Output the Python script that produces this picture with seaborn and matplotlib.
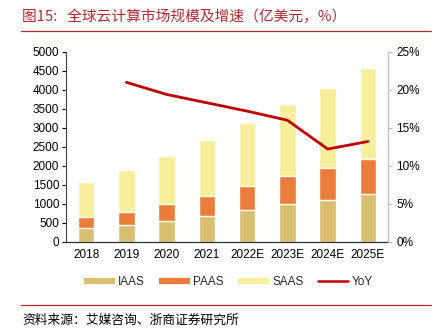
import numpy as np
import pandas as pd
import matplotlib
matplotlib.use("Agg")
import matplotlib.pyplot as plt
from matplotlib.lines import Line2D
from matplotlib.ticker import MultipleLocator, FuncFormatter
import seaborn as sns

years = ["2018", "2019", "2020", "2021", "2022E", "2023E", "2024E", "2025E"]
iaas = [362, 450, 548, 680, 831, 979, 1103, 1262]
paas = [283, 344, 441, 529, 624, 759, 839, 926]
saas = [926, 1103, 1278, 1473, 1677, 1878, 2116, 2399]
yoy = [np.nan, 21.0, 19.4, 18.3, 17.2, 16.0, 12.2, 13.2]

c_iaas = "#D9BF72"
c_paas = "#EB7D3C"
c_saas = "#F8EF9D"
c_yoy = "#C00000"
c_title = "#B8282E"

sns.set_theme(style="white")
plt.rcParams["font.family"] = ["Liberation Sans", "Noto Sans CJK SC", "DejaVu Sans"]

df = pd.DataFrame({"year": years, "IAAS": iaas, "PAAS": paas, "SAAS": saas, "YoY": yoy})
df["c1"] = df["IAAS"]
df["c2"] = df["IAAS"] + df["PAAS"]
df["c3"] = df["c2"] + df["SAAS"]
df["pos"] = np.arange(len(years))

fig = plt.figure(figsize=(4.43, 3.31), dpi=100)
ax = fig.add_axes([0.149, 0.270, 0.727, 0.573])

w = 0.41
sns.barplot(data=df, x="year", y="c3", color=c_saas, width=w, saturation=1, ax=ax)
sns.barplot(data=df, x="year", y="c2", color=c_paas, width=w, saturation=1, ax=ax)
sns.barplot(data=df, x="year", y="c1", color=c_iaas, width=w, saturation=1, ax=ax)

ax.set_xlim(-0.5, len(years) - 0.5)
ax.set_ylim(0, 5000)
ax.yaxis.set_major_locator(MultipleLocator(500))
ax.set_xlabel("")
ax.set_ylabel("")
ax.set_xticks(np.arange(len(years)))
ax.set_xticklabels(years)
ax.set_xticks(np.arange(len(years) + 1) - 0.5, minor=True)
ax.tick_params(axis="x", which="major", length=0, labelsize=8.5, pad=5, colors="black")
ax.tick_params(axis="x", which="minor", length=3, width=0.8, color="#404040", direction="out")
ax.tick_params(axis="y", length=3, width=0.8, labelsize=8.5, direction="out", left=True, colors="black", pad=2)
for s in ["top", "right"]:
    ax.spines[s].set_visible(False)
ax.spines["left"].set_color("#404040")
ax.spines["bottom"].set_color("#303030")
ax.spines["left"].set_linewidth(0.8)
ax.spines["bottom"].set_linewidth(0.9)

ax2 = ax.twinx()
sns.lineplot(data=df, x="pos", y="YoY", color=c_yoy, lw=2.0, ax=ax2, legend=False)
ax2.set_ylim(0, 25)
ax2.set_xlim(-0.5, len(years) - 0.5)
ax2.yaxis.set_major_locator(MultipleLocator(5))
ax2.yaxis.set_major_formatter(FuncFormatter(lambda v, p: f"{v:.0f}%"))
ax2.set_ylabel("")
ax2.set_xlabel("")
ax2.tick_params(axis="y", length=3, width=0.8, labelsize=8.5, direction="out", right=True, color="#BFBFBF", labelcolor="black", pad=3)
for s in ["top", "left", "bottom"]:
    ax2.spines[s].set_visible(False)
ax2.spines["right"].set_color("#BFBFBF")
ax2.spines["right"].set_linewidth(0.9)

handles = [
    Line2D([], [], color=c_iaas, lw=4.5, solid_capstyle="butt"),
    Line2D([], [], color=c_paas, lw=4.5, solid_capstyle="butt"),
    Line2D([], [], color=c_saas, lw=4.5, solid_capstyle="butt"),
    Line2D([], [], color=c_yoy, lw=1.8),
]
fig.legend(handles, ["IAAS", "PAAS", "SAAS", "YoY"], loc="center", bbox_to_anchor=(0.516, 0.148),
           ncol=4, frameon=False, fontsize=8.5, handlelength=2.6, handletextpad=0.3, columnspacing=1.2)

fig.text(22 / 443, 1 - 17 / 331, "图15:   全球云计算市场规模及增速（亿美元，%）", color=c_title,
         fontsize=10.6, va="center", ha="left", family=["Noto Sans CJK SC", "DejaVu Sans"])
fig.add_artist(Line2D([21 / 443, 431 / 443], [1 - 31 / 331, 1 - 31 / 331], color=c_title, lw=0.9))
fig.add_artist(Line2D([21 / 443, 431 / 443], [1 - 305 / 331, 1 - 305 / 331], color=c_title, lw=0.9))
fig.text(22 / 443, 1 - 320 / 331, "资料来源：艾媒咨询、浙商证券研究所", color="black",
         fontsize=9.2, va="center", ha="left", family=["Noto Sans CJK SC", "DejaVu Sans"])

fig.savefig("out.png", dpi=100)
